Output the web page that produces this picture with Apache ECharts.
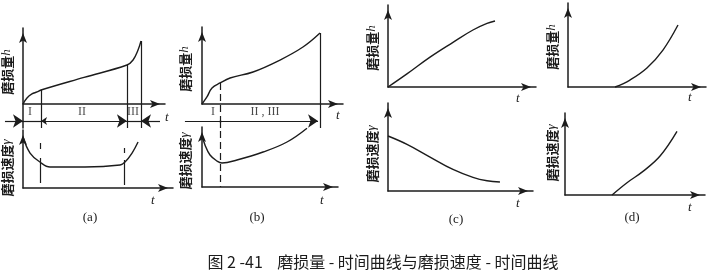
<!DOCTYPE html>
<html>
<head>
<meta charset="utf-8">
<script src="https://cdn.jsdelivr.net/npm/echarts@6/dist/echarts.min.js"></script>
<style>
  html, body { margin: 0; padding: 0; background: #fff; }
  #main { width: 716px; height: 276px; }
</style>
</head>
<body>
<div id="main"></div>
<script>
// 磨损量 h / 磨损速度 γ 曲线 (a)(b)(c)(d)，坐标均按 0~100 的相对刻度读取
var wearA = [[0,0],[2.8,7.9],[6.3,13.2],[9.9,15.8],[12.7,18.4],[43,35],[73.2,51.3],[77.5,57.9],[81,71],[83.1,82.9]];
var rateA = [[0,87.9],[4.7,60.3],[11.3,44.8],[18,36.2],[41.3,36.2],[64.7,39.7],[68,44.8],[72.7,60.3],[76.7,79.3]];
var wearB = [[0,0],[3.5,9.1],[7.1,20.8],[12.8,27.3],[19.9,33.8],[36.2,41.6],[55.3,57.1],[71.6,74],[83.7,92.2]];
var rateB = [[0,86.7],[2.2,70],[5.9,53.3],[11,43.3],[14.7,40],[25.7,45],[44.9,58.3],[62.5,75],[77.2,98]];
var wearC = [[0,0],[12.8,16],[28.4,36.5],[43.9,54.5],[57.4,69.5],[66.9,77.5],[72.3,80.5]];
var rateC = [[0,62.5],[13.1,53],[29,38.6],[44.8,24.5],[58.6,15.5],[68.3,11.6],[77.2,10.2]];
var wearD = [[34.1,0],[44.9,8.3],[57.2,22.6],[68.8,44],[79.7,73.8]];
var rateD = [[33.6,0],[44.3,15],[55.7,28.8],[67.9,47.5],[80,77.5]];

// 阶段分界线 (x, y起, y止)
var bordersA = [[12.7,18.4,-31.6],[73.2,51.3,-31.6],[83.1,82.9,-31.6]];
var bordersA2 = [[11.3,77.6,67.2],[11.3,51.7,8.6],[67.3,69,60.3],[67.3,48.3,5.2]];
var bordersB = [[83.7,92.2,-31.2]];
var dashB = [[12.8,27.3,-31.2]];
var dashB2 = [[13.2,111.7,0]];

// 阶段标注
var stageA = [['I',4.9,-10],['II',41.5,-10],['III',77.5,-10]];
var stageB = [['I',7.8,-10.4],['II , III',44.7,-10.4]];
var rowA = -22.4, rowB = -22.1;

var yNames = ['磨损量{i|h}','磨损速度{i|γ}'];
var panelNames = ['(a)','(b)','(c)','(d)'];
var caption = '图 2 -41    磨损量 - 时间曲线与磨损速度 - 时间曲线';

var ink = '#1c1c1c';
var myChart = echarts.init(document.getElementById('main'));

// 每个小图: [left, top, width, height, ymin, t名称nameGap, t下移]
var boxes = [
    [23, 28, 142, 100, -31.6, 0, 7],
    [23, 130, 150, 58, 0, -22, 6],
    [202, 27, 141, 77, 0, -7, 5],
    [202, 127, 136, 60, 0, -18, 7],
    [388, 5, 148, 82, 0, -20, 5],
    [388, 103, 145, 88, 0, -17, 6],
    [568, 3, 138, 84, 0, -18, 4],
    [565, 113, 140, 82, 0, -17, 6]
];

var grids = [], xAxes = [], yAxes = [], series = [];

function axisLine() {
    return {
        show: true,
        onZero: true,
        symbol: ['none', 'arrow'],
        symbolSize: [6, 10],
        symbolOffset: [0, -5],
        lineStyle: { color: ink, width: 1.5 }
    };
}

boxes.forEach(function (b, i) {
    grids.push({ left: b[0], top: b[1], width: b[2], height: b[3] });
    xAxes.push({
        gridIndex: i, type: 'value', min: 0, max: 100,
        axisLine: axisLine(), axisTick: { show: false }, axisLabel: { show: false }, splitLine: { show: false },
        name: 't', nameLocation: 'end', nameGap: b[5],
        nameTextStyle: { color: ink, fontFamily: 'Liberation Serif', fontStyle: 'italic', fontSize: 13, verticalAlign: 'top', padding: [b[6], 0, 0, 0] }
    });
    yAxes.push({
        gridIndex: i, type: 'value', min: b[4], max: 100,
        axisLine: axisLine(), axisTick: { show: false }, axisLabel: { show: false }, splitLine: { show: false }
    });
});

function curve(idx, pts) {
    return {
        type: 'line', xAxisIndex: idx, yAxisIndex: idx, data: pts,
        smooth: 0.4, symbol: 'none', clip: false, silent: true,
        lineStyle: { color: ink, width: 1.4 }
    };
}

function segs(idx, list, dashed) {
    return {
        type: 'lines', coordinateSystem: 'cartesian2d', xAxisIndex: idx, yAxisIndex: idx,
        clip: false, silent: true, symbol: 'none',
        lineStyle: { color: ink, width: 1.2, opacity: 1, type: dashed ? [7, 4] : 'solid' },
        data: list.map(function (s) { return { coords: [[s[0], s[1]], [s[0], s[2]]] }; })
    };
}

function arrows(idx, list, sym) {
    return {
        type: 'lines', coordinateSystem: 'cartesian2d', xAxisIndex: idx, yAxisIndex: idx,
        clip: false, silent: true, symbol: sym, symbolSize: [6, 10],
        lineStyle: { color: ink, width: 1.2, opacity: 1 },
        data: list.map(function (s) { return { coords: [[s[0], s[2]], [s[1], s[2]]] }; })
    };
}

function stages(idx, list) {
    return {
        type: 'scatter', xAxisIndex: idx, yAxisIndex: idx, clip: false, silent: true,
        symbolSize: 1, itemStyle: { color: 'rgba(0,0,0,0)' },
        label: { show: true, position: 'inside', formatter: '{b}', color: ink, fontFamily: 'Liberation Serif', fontSize: 12 },
        data: list.map(function (s) { return { name: s[0], value: [s[1], s[2]] }; })
    };
}

series.push(curve(0, wearA), curve(1, rateA), curve(2, wearB), curve(3, rateB),
    curve(4, wearC), curve(5, rateC), curve(6, wearD), curve(7, rateD));
series.push(segs(0, bordersA, false), segs(1, bordersA2, false), segs(2, bordersB, false),
    segs(2, dashB, true), segs(3, dashB2, true));
// 阶段区间箭头
series.push(arrows(0, [[-12.7, 0, rowA], [96.5, 83.1, rowA]], ['none', 'arrow']));
series.push(arrows(0, [[12.7, 73.2, rowA]], ['arrow', 'arrow']));
series.push(arrows(0, [[0, 12.7, rowA], [73.2, 83.1, rowA]], ['none', 'none']));
series.push(arrows(2, [[-12.1, 82.3, rowB]], ['none', 'arrow']));
series.push(stages(0, stageA), stages(2, stageB));

// 纵轴名称 (竖排旋转)、分图标号、图题
var yLabelPos = [[7,72],[7,168],[185,69],[185,161],[372,48],[372,154],[552,47],[552,153]];
var panelPos = [[90,218],[257,218],[456,220],[632,218]];
var graphics = [];
yLabelPos.forEach(function (p, i) {
    graphics.push({
        type: 'text', x: p[0], y: p[1], rotation: Math.PI / 2, silent: true,
        style: {
            text: yNames[i % 2], fill: ink, align: 'center', verticalAlign: 'middle',
            font: 'bold 13px "Noto Sans CJK SC"',
            rich: { i: { fontFamily: 'Liberation Serif', fontStyle: 'italic', fontWeight: 'normal', fontSize: 13, fill: ink } }
        }
    });
});
panelPos.forEach(function (p, i) {
    graphics.push({
        type: 'text', x: p[0], y: p[1], silent: true,
        style: { text: panelNames[i], fill: ink, align: 'center', verticalAlign: 'middle', font: '13px "Liberation Serif"' }
    });
});
graphics.push({
    type: 'text', x: 383, y: 262, silent: true,
    style: { text: caption, fill: ink, align: 'center', verticalAlign: 'middle', font: '16px "Noto Sans CJK SC"' }
});

var option = {
    animation: false,
    backgroundColor: '#fff',
    grid: grids,
    xAxis: xAxes,
    yAxis: yAxes,
    series: series,
    graphic: graphics
};
myChart.setOption(option);
</script>
</body>
</html>
